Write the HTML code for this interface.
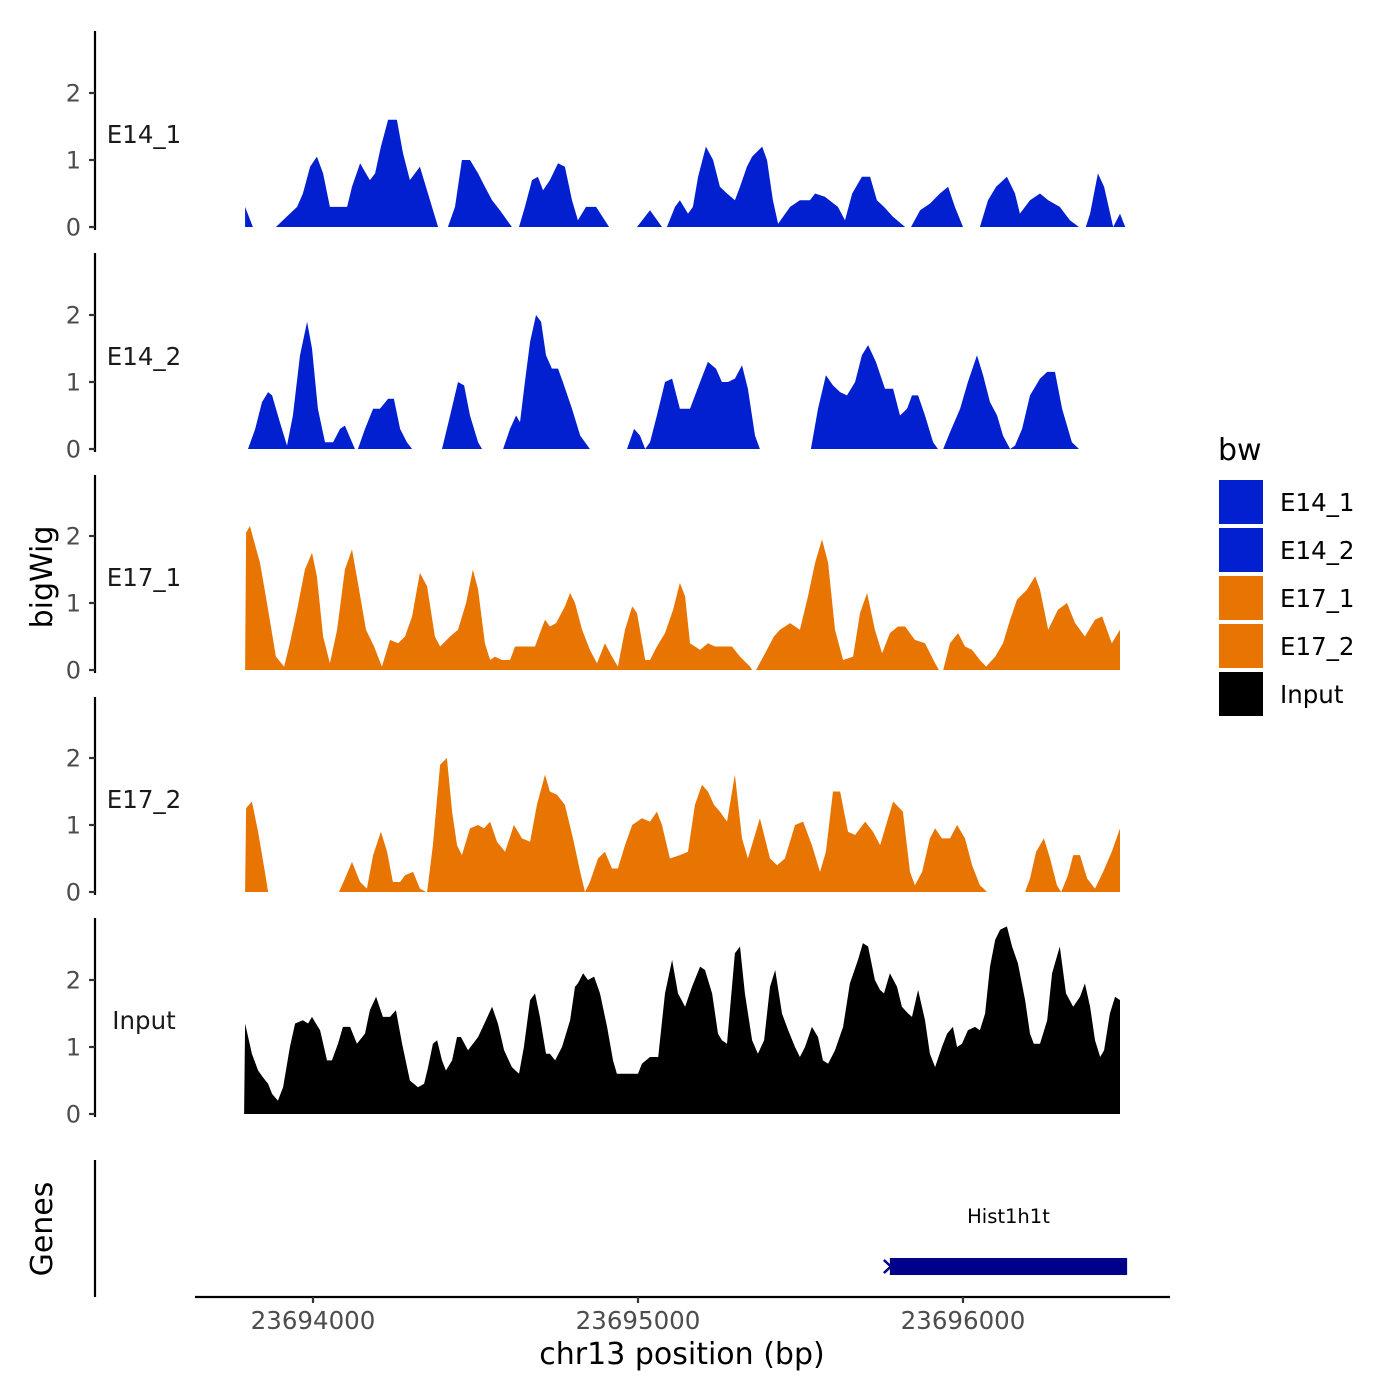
<!DOCTYPE html>
<html><head><meta charset="utf-8"><style>
html,body{margin:0;padding:0;background:#fff;}
svg{display:block;font-family:"DejaVu Sans","Liberation Sans",sans-serif;}
</style></head><body>
<svg id="chart" width="1400" height="1400" viewBox="0 0 1400 1400" xmlns="http://www.w3.org/2000/svg">
<rect width="1400" height="1400" fill="#fff"/>
<g id="panels"></g>
<text x="52" y="577" transform="rotate(-90 52 577)" text-anchor="middle" font-size="30" fill="#000">bigWig</text>
<text x="52" y="1229" transform="rotate(-90 52 1229)" text-anchor="middle" font-size="30" fill="#000">Genes</text>
<line x1="95" y1="1160" x2="95" y2="1297" stroke="#000" stroke-width="2.2"/>
<g id="xaxis"></g>
<text x="682" y="1364" text-anchor="middle" font-size="30" fill="#000">chr13 position (bp)</text>
<g id="gene"></g>
<g id="legend">
<text x="1218" y="460" font-size="30" fill="#000">bw</text>
</g>
</svg>
<script>
const NS="http://www.w3.org/2000/svg";
const regionStart=23694000;
const xTicks=[23694000,23695000,23696000];
const yTicks=[0,1,2];
const trackNames=["E14_1","E14_2","E17_1","E17_2","Input"];
const trackColors=["#0320d0","#0320d0","#e87502","#e87502","#000000"];
// positions are bp offsets from regionStart; null value = gap
const e14_1_pos=[-209,-185,-150,-114,-71,-49,-31,-9,12,31,52,105,120,145,157,175,191,209,231,258,277,298,329,360,385,400,415,437,458,483,508,529,551,575,612,620,634,652,674,692,708,729,754,775,797,815,840,871,911,950,997,1037,1074,1080,1089,1114,1129,1154,1169,1185,1209,1231,1252,1274,1298,1314,1335,1351,1382,1397,1415,1431,1468,1498,1529,1545,1575,1615,1637,1659,1689,1714,1735,1757,1785,1822,1830,1840,1868,1898,1929,1954,1975,2000,2025,2052,2077,2102,2135,2160,2175,2206,2237,2262,2298,2329,2357,2365,2378,2391,2415,2434,2462,2483,2499];
const e14_1_val=[0.3,0,null,0,0.2,0.3,0.5,0.9,1.05,0.8,0.3,0.3,0.6,0.95,0.85,0.7,0.8,1.2,1.6,1.6,1.1,0.7,0.9,0.4,0,null,0,0.3,1.0,1.0,0.8,0.6,0.4,0.25,0,null,0,0.3,0.7,0.75,0.55,0.7,0.95,0.9,0.4,0.1,0.3,0.3,0,null,0,0.25,0,null,0,0.3,0.4,0.2,0.3,0.75,1.2,1.0,0.6,0.5,0.4,0.6,0.9,1.05,1.2,1.0,0.4,0.05,0.3,0.4,0.4,0.5,0.45,0.3,0.1,0.5,0.75,0.75,0.4,0.3,0.15,0,null,0,0.25,0.35,0.5,0.6,0.3,0,null,0,0.4,0.6,0.75,0.5,0.2,0.4,0.5,0.4,0.3,0.1,0,null,0,0.2,0.8,0.6,0,0.2,0];
const e14_2_pos=[-200,-178,-157,-138,-126,-102,-80,-62,-40,-18,-3,15,37,62,83,98,129,138,160,185,206,231,249,268,289,305,350,397,422,446,465,483,508,520,550,585,606,625,637,652,668,686,702,717,735,754,769,797,822,852,900,966,988,1006,1022,1037,1058,1083,1105,1129,1160,1191,1215,1240,1258,1277,1298,1320,1338,1360,1375,1450,1532,1554,1578,1600,1622,1643,1668,1689,1708,1732,1760,1785,1806,1828,1843,1862,1883,1908,1923,1930,1939,1960,1991,2015,2043,2062,2083,2105,2123,2145,2160,2182,2206,2237,2259,2283,2305,2335,2357];
const e14_2_val=[0,0.3,0.7,0.85,0.8,0.4,0.05,0.5,1.4,1.9,1.5,0.6,0.1,0.1,0.3,0.35,0,0,0.3,0.6,0.6,0.75,0.75,0.3,0.1,0,null,0,0.5,1.0,0.95,0.5,0.1,0,null,0,0.3,0.5,0.4,1.0,1.6,2.0,1.9,1.4,1.2,1.2,1.0,0.6,0.2,0,null,0,0.3,0.2,0,0.1,0.5,1.0,1.05,0.6,0.6,1.0,1.3,1.2,1.0,1.0,1.05,1.25,0.9,0.2,0,null,0,0.6,1.1,0.95,0.85,0.8,1.0,1.4,1.55,1.3,0.9,0.9,0.5,0.6,0.8,0.8,0.5,0.1,0,null,0,0.25,0.6,1.0,1.4,1.1,0.7,0.5,0.2,0,0.05,0.3,0.8,1.05,1.15,1.15,0.6,0.1,0];
const e17_1_pos=[-209,-206,-194,-163,-138,-114,-89,-71,-49,-25,-3,12,31,52,74,98,120,138,163,188,212,237,262,283,305,329,351,375,391,422,446,471,492,508,529,545,560,582,606,622,683,698,714,729,748,775,791,806,828,852,874,898,920,938,960,982,997,1022,1037,1058,1083,1108,1129,1145,1160,1191,1215,1237,1289,1314,1345,1351,1357,1363,1391,1418,1437,1468,1498,1523,1545,1566,1585,1606,1631,1662,1683,1705,1729,1751,1775,1800,1822,1852,1883,1914,1926,1932,1939,1960,1985,2006,2028,2052,2071,2099,2123,2145,2166,2197,2222,2237,2262,2292,2320,2345,2375,2406,2428,2458,2483];
const e17_1_val=[0,2.05,2.15,1.6,0.9,0.2,0.05,0.4,0.9,1.5,1.75,1.4,0.5,0.1,0.6,1.5,1.8,1.3,0.6,0.35,0.05,0.45,0.4,0.5,0.8,1.45,1.25,0.5,0.35,0.5,0.6,1.0,1.5,1.2,0.4,0.15,0.2,0.15,0.15,0.35,0.35,0.55,0.75,0.65,0.7,0.95,1.15,1.0,0.6,0.3,0.1,0.4,0.2,0.05,0.6,0.95,0.85,0.15,0.15,0.35,0.55,0.9,1.3,1.1,0.4,0.3,0.4,0.35,0.35,0.2,0.05,0,null,0,0.25,0.5,0.6,0.7,0.6,1.1,1.6,1.95,1.6,0.6,0.15,0.2,0.85,1.15,0.6,0.25,0.55,0.65,0.65,0.45,0.4,0.1,0,null,0,0.4,0.55,0.35,0.3,0.15,0.05,0.2,0.4,0.75,1.05,1.2,1.4,1.2,0.6,0.9,1.0,0.7,0.5,0.75,0.8,0.4,0.6];
const e17_2_pos=[-209,-206,-188,-169,-148,-138,-50,80,98,120,145,166,185,209,228,246,268,283,308,329,348,349,351,369,391,412,428,443,458,483,508,526,545,566,591,618,643,668,689,714,729,751,775,800,822,837,852,877,898,920,938,960,982,1012,1037,1058,1074,1098,1129,1154,1175,1197,1215,1234,1252,1274,1298,1320,1338,1375,1406,1428,1452,1483,1508,1535,1560,1578,1600,1622,1646,1668,1699,1723,1745,1785,1815,1837,1852,1874,1898,1914,1935,1960,1982,2006,2028,2052,2074,2130,2191,2206,2225,2249,2268,2289,2302,2323,2339,2360,2382,2406,2431,2458,2483];
const e17_2_val=[0,1.25,1.35,0.9,0.3,0,null,0,0.2,0.45,0.15,0.05,0.55,0.9,0.6,0.15,0.15,0.25,0.3,0.05,0,null,0,0.7,1.9,2.0,1.2,0.7,0.55,0.95,1.0,0.95,1.05,0.75,0.6,1.0,0.8,0.75,1.3,1.75,1.5,1.45,1.3,0.8,0.3,0,0.15,0.5,0.6,0.35,0.35,0.7,1.0,1.1,1.05,1.2,1.0,0.5,0.55,0.6,1.3,1.6,1.5,1.3,1.2,1.05,1.75,0.8,0.5,1.1,0.5,0.4,0.5,1.0,1.05,0.7,0.3,0.6,1.5,1.5,0.9,0.85,1.05,0.9,0.7,1.35,1.2,0.3,0.1,0.3,0.8,0.95,0.8,0.8,1.0,0.8,0.4,0.1,0,null,0,0.2,0.6,0.8,0.5,0.1,0,0.25,0.55,0.55,0.2,0.05,0.3,0.6,0.95];
const input_pos=[-212,-209,-188,-169,-154,-138,-126,-108,-92,-71,-55,-31,-15,-3,9,22,43,58,77,92,114,135,160,175,194,215,237,255,274,298,323,342,354,369,382,397,409,428,443,455,477,508,532,551,569,588,612,634,649,668,683,698,717,729,745,766,791,806,815,831,846,865,883,905,923,935,1000,1012,1037,1062,1083,1105,1123,1145,1166,1191,1206,1228,1246,1258,1274,1298,1314,1329,1351,1369,1388,1406,1422,1443,1462,1483,1498,1514,1535,1554,1569,1585,1606,1631,1652,1677,1692,1708,1729,1745,1757,1775,1797,1812,1831,1843,1862,1883,1898,1914,1935,1951,1969,1982,1997,2015,2037,2052,2068,2083,2099,2114,2135,2151,2169,2191,2206,2218,2237,2259,2274,2298,2317,2339,2360,2375,2391,2406,2422,2434,2452,2468,2483];
const input_val=[0,1.35,0.9,0.65,0.55,0.45,0.3,0.2,0.4,1.0,1.35,1.4,1.35,1.45,1.35,1.25,0.8,0.8,1.05,1.3,1.3,1.05,1.2,1.55,1.75,1.45,1.45,1.55,1.05,0.5,0.4,0.45,0.7,1.05,1.1,0.8,0.65,0.8,1.15,1.15,0.95,1.15,1.4,1.6,1.35,0.95,0.7,0.6,1.0,1.7,1.8,1.45,0.9,0.9,0.8,1.0,1.4,1.9,1.95,2.1,2.0,2.05,1.8,1.3,0.8,0.6,0.6,0.75,0.85,0.85,1.8,2.3,1.8,1.6,1.9,2.2,2.15,1.8,1.2,1.1,1.05,2.4,2.5,1.8,1.1,0.9,1.1,1.9,2.15,1.5,1.25,1.0,0.85,1.0,1.3,1.15,0.8,0.75,0.95,1.3,1.95,2.3,2.55,2.5,2.0,1.85,1.8,2.1,1.9,1.6,1.5,1.45,1.85,1.4,0.9,0.7,1.0,1.2,1.3,1.0,1.05,1.25,1.3,1.25,1.5,2.2,2.6,2.75,2.8,2.5,2.25,1.7,1.2,1.05,1.05,1.4,2.1,2.5,1.8,1.6,1.75,1.95,1.6,1.1,0.85,0.95,1.5,1.75,1.7];
const trackPos=[e14_1_pos,e14_2_pos,e17_1_pos,e17_2_pos,input_pos];
const trackVal=[e14_1_val,e14_2_val,e17_1_val,e17_2_val,input_val];
const geneName="Hist1h1t";
const geneStart=1775, geneEnd=2505;

function x(bp){return 313+(bp-regionStart)*0.325;}
function xo(off){return x(regionStart+off);}
const panelTop=[31,253,475,697,918];
const panelZero=[227,449,670,892,1114];
function y(p,v){return panelZero[p]-v*67;}
function mk(tag,attrs,parent){const e=document.createElementNS(NS,tag);for(const k in attrs)e.setAttribute(k,attrs[k]);parent.appendChild(e);return e;}

const panels=document.getElementById('panels');
for(let p=0;p<5;p++){
  const g=mk('g',{},panels);
  
  
  const ax=mk('line',{x1:95,y1:panelTop[p],x2:95,y2:panelZero[p]+3,stroke:'#000','stroke-width':2.2},g);
  
  
  yTicks.forEach(t=>{
    const tl=mk('line',{x1:89,y1:y(p,t),x2:95,y2:y(p,t),stroke:'#333','stroke-width':2.2},g);
    
    
    const tx=mk('text',{x:81,y:y(p,t)+8.5,'text-anchor':'end','font-size':24,fill:'#4d4d4d'},g);
    tx.textContent=t;
    
    
  });
  const lab=mk('text',{x:144,y:(p===4?1029:panelZero[p]-84),'text-anchor':'middle','font-size':24.5,fill:'#1a1a1a'},g);
  lab.textContent=trackNames[p];
  
  
  const pos=trackPos[p], val=trackVal[p];
  let seg=[];
  const segs=[];
  for(let i=0;i<pos.length;i++){
    if(val[i]===null){if(seg.length)segs.push(seg);seg=[];}
    else seg.push([pos[i],val[i]]);
  }
  if(seg.length)segs.push(seg);
  segs.forEach(s=>{
    let d='M'+xo(s[0][0]).toFixed(1)+','+panelZero[p];
    s.forEach(pt=>{d+='L'+xo(pt[0]).toFixed(1)+','+y(p,pt[1]).toFixed(1);});
    d+='L'+xo(s[s.length-1][0]).toFixed(1)+','+panelZero[p]+'Z';
    const a=mk('path',{d:d,fill:trackColors[p],stroke:'none'},g);
    
    
  });
}
const xa=document.getElementById('xaxis');
const xl=mk('line',{x1:195,y1:1297,x2:1170,y2:1297,stroke:'#000','stroke-width':2.2},xa);


xTicks.forEach(t=>{
  const tl=mk('line',{x1:x(t),y1:1297,x2:x(t),y2:1303,stroke:'#333','stroke-width':2.2},xa);
  
  
  const tx=mk('text',{x:x(t),y:1329,'text-anchor':'middle','font-size':24.5,fill:'#4d4d4d'},xa);
  tx.textContent=t;
  
  
});
const gg=document.getElementById('gene');
const gb=mk('rect',{x:xo(geneStart),y:1258,width:xo(geneEnd)-xo(geneStart),height:17,fill:'#00008b'},gg);


const ga=mk('path',{d:'M'+(xo(geneStart)-6)+',1260L'+(xo(geneStart)+1)+',1266.5L'+(xo(geneStart)-6)+',1273',stroke:'#00008b','stroke-width':2.5,fill:'none'},gg);


const gt=mk('text',{x:(xo(geneStart)+xo(geneEnd))/2,y:1223,'text-anchor':'middle','font-size':19.5,fill:'#000'},gg);
gt.textContent=geneName;


const lg=document.getElementById('legend');
trackNames.forEach((n,i)=>{
  const r=mk('rect',{x:1219,y:480+i*48,width:44,height:44,fill:trackColors[i]},lg);
  
  
  const t=mk('text',{x:1280,y:511+i*48,'font-size':24.5,fill:'#000'},lg);
  t.textContent=n;
  
  
});
</script>
</body></html>
